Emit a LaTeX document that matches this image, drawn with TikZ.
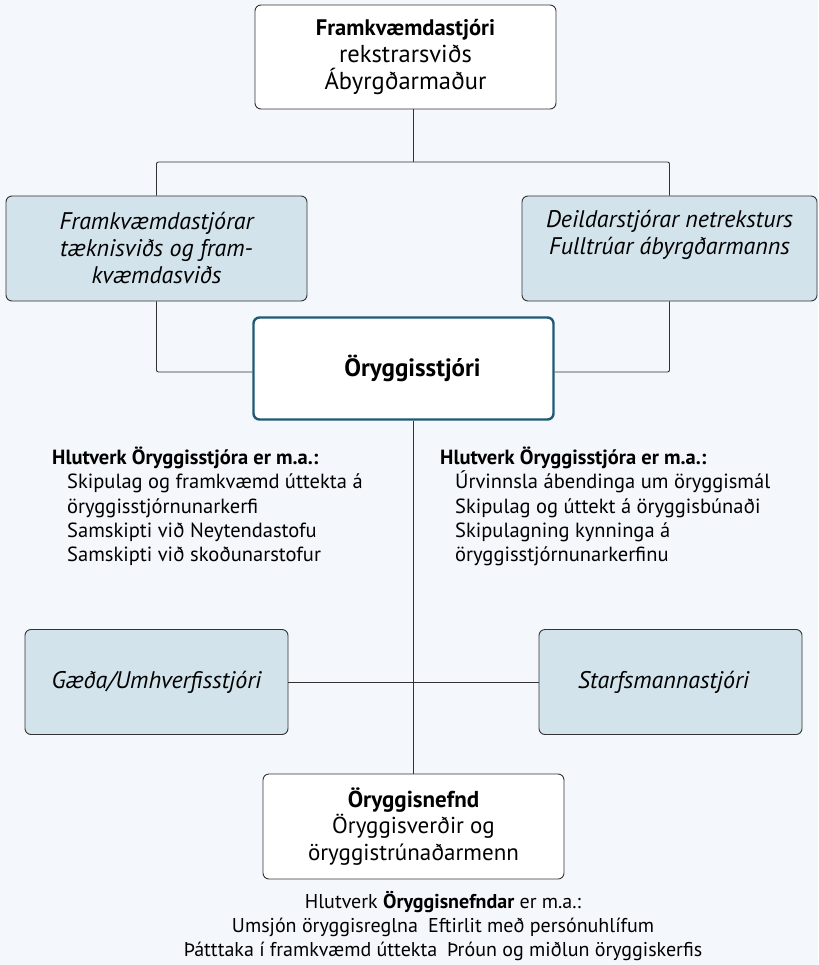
\documentclass[tikz,border=0pt]{standalone}
\usepackage{fontspec}
\setmainfont{PT Sans}
\usetikzlibrary{positioning}

\definecolor{pagebg}{HTML}{F4F7FB}
\definecolor{boxblue}{HTML}{D3E3EB}
\definecolor{chiefline}{HTML}{1D5A74}
\definecolor{linegray}{HTML}{333333}

\def\canvas{(0,0) rectangle (818,965)}

\begin{document}
\begin{tikzpicture}[x=1pt, y=-1pt,
    box/.style={draw=linegray, line width=0.9pt, rounded corners=6pt, fill=white,
        align=center, inner sep=0pt},
    bluebox/.style={box, fill=boxblue, font=\fontsize{24}{27}\selectfont\itshape},
    chiefbox/.style={box, draw=chiefline, line width=2.4pt},
    link/.style={draw=linegray, line width=0.9pt, rounded corners=2pt},
    roles/.style={font=\fontsize{20.5}{24.3}\selectfont, inner sep=0pt}]

    \fill[pagebg] \canvas;
    \useasboundingbox \canvas;
    \coordinate (spine) at (413,0);
    \coordinate (fork) at (413,162);

    % boxes
    \node[box, minimum width=301pt, minimum height=104pt, font=\fontsize{24.5}{27}\selectfont]
        (ceo) at (405.5,57) {{\fontsize{22.5}{27}\selectfont\textbf{Framkvæmdastjóri}}\\rekstrarsviðs\\Ábyrgðarmaður};
    \node[bluebox, minimum width=301pt, minimum height=105pt]
        (tech) at (156.5,248.5) {Framkvæmdastjórar\\tæknisviðs og fram-\\kvæmdasviðs};
    \node[bluebox, minimum width=295pt, minimum height=105pt]
        (net) at (669.5,248.5) {Deildarstjórar netreksturs\\Fulltrúar ábyrgðarmanns\\[6pt]};
    \node[chiefbox, minimum width=300pt, minimum height=102pt, font=\fontsize{25}{27}\selectfont\bfseries]
        (safety) at (403.5,368.5) {\hspace*{18pt}Öryggisstjóri};
    \node[bluebox, minimum width=263pt, minimum height=105pt]
        (quality) at (156.5,682) {Gæða/Umhverfisstjóri};
    \node[bluebox, minimum width=263pt, minimum height=105pt]
        (staff) at (670.5,682) {Starfsmannastjóri\hspace*{14pt}};
    \node[box, minimum width=301pt, minimum height=105pt, font=\fontsize{23}{26.5}\selectfont]
        (board) at (413.5,826.5) {\textbf{Öryggisnefnd}\\Öryggisverðir og\\öryggistrúnaðarmenn};

    % connectors
    \draw[link] (ceo.south -| spine) -- (fork);
    \draw[link] (tech.north) |- (fork) -| (net.north);
    \draw[link] (tech.south) |- ([yshift=-3.5pt]safety.west);
    \draw[link] (net.south) |- ([yshift=-3.5pt]safety.east);
    \draw[link] (safety.south -| spine) -- (board.north -| spine);
    \draw[link] (quality.east) -- (staff.west);

    % roles
    \node[roles, align=left, anchor=west] (safetyrolesA) at (52,506.5)
        {\textbf{Hlutverk Öryggisstjóra er m.a.:}\\
         \hspace*{15pt}Skipulag og framkvæmd úttekta á\\
         \hspace*{15pt}öryggisstjórnunarkerfi\\
         \hspace*{15pt}Samskipti við Neytendastofu\\
         \hspace*{15pt}Samskipti við skoðunarstofur};
    \node[roles, align=left, anchor=west] (safetyrolesB) at (440,506.5)
        {\textbf{Hlutverk Öryggisstjóra er m.a.:}\\
         \hspace*{15pt}Úrvinnsla ábendinga um öryggismál\\
         \hspace*{15pt}Skipulag og úttekt á öryggisbúnaði\\
         \hspace*{15pt}Skipulagning kynninga á\\
         \hspace*{15pt}öryggisstjórnunarkerfinu};
    \node[roles, align=center, font=\fontsize{20}{24}\selectfont] (boardroles) at (443,926)
        {Hlutverk \textbf{Öryggisnefndar} er m.a.:\\
         Umsjón öryggisreglna\enspace Eftirlit með persónuhlífum\\
         Þátttaka í framkvæmd úttekta\enspace Þróun og miðlun öryggiskerfis};
\end{tikzpicture}
\end{document}
